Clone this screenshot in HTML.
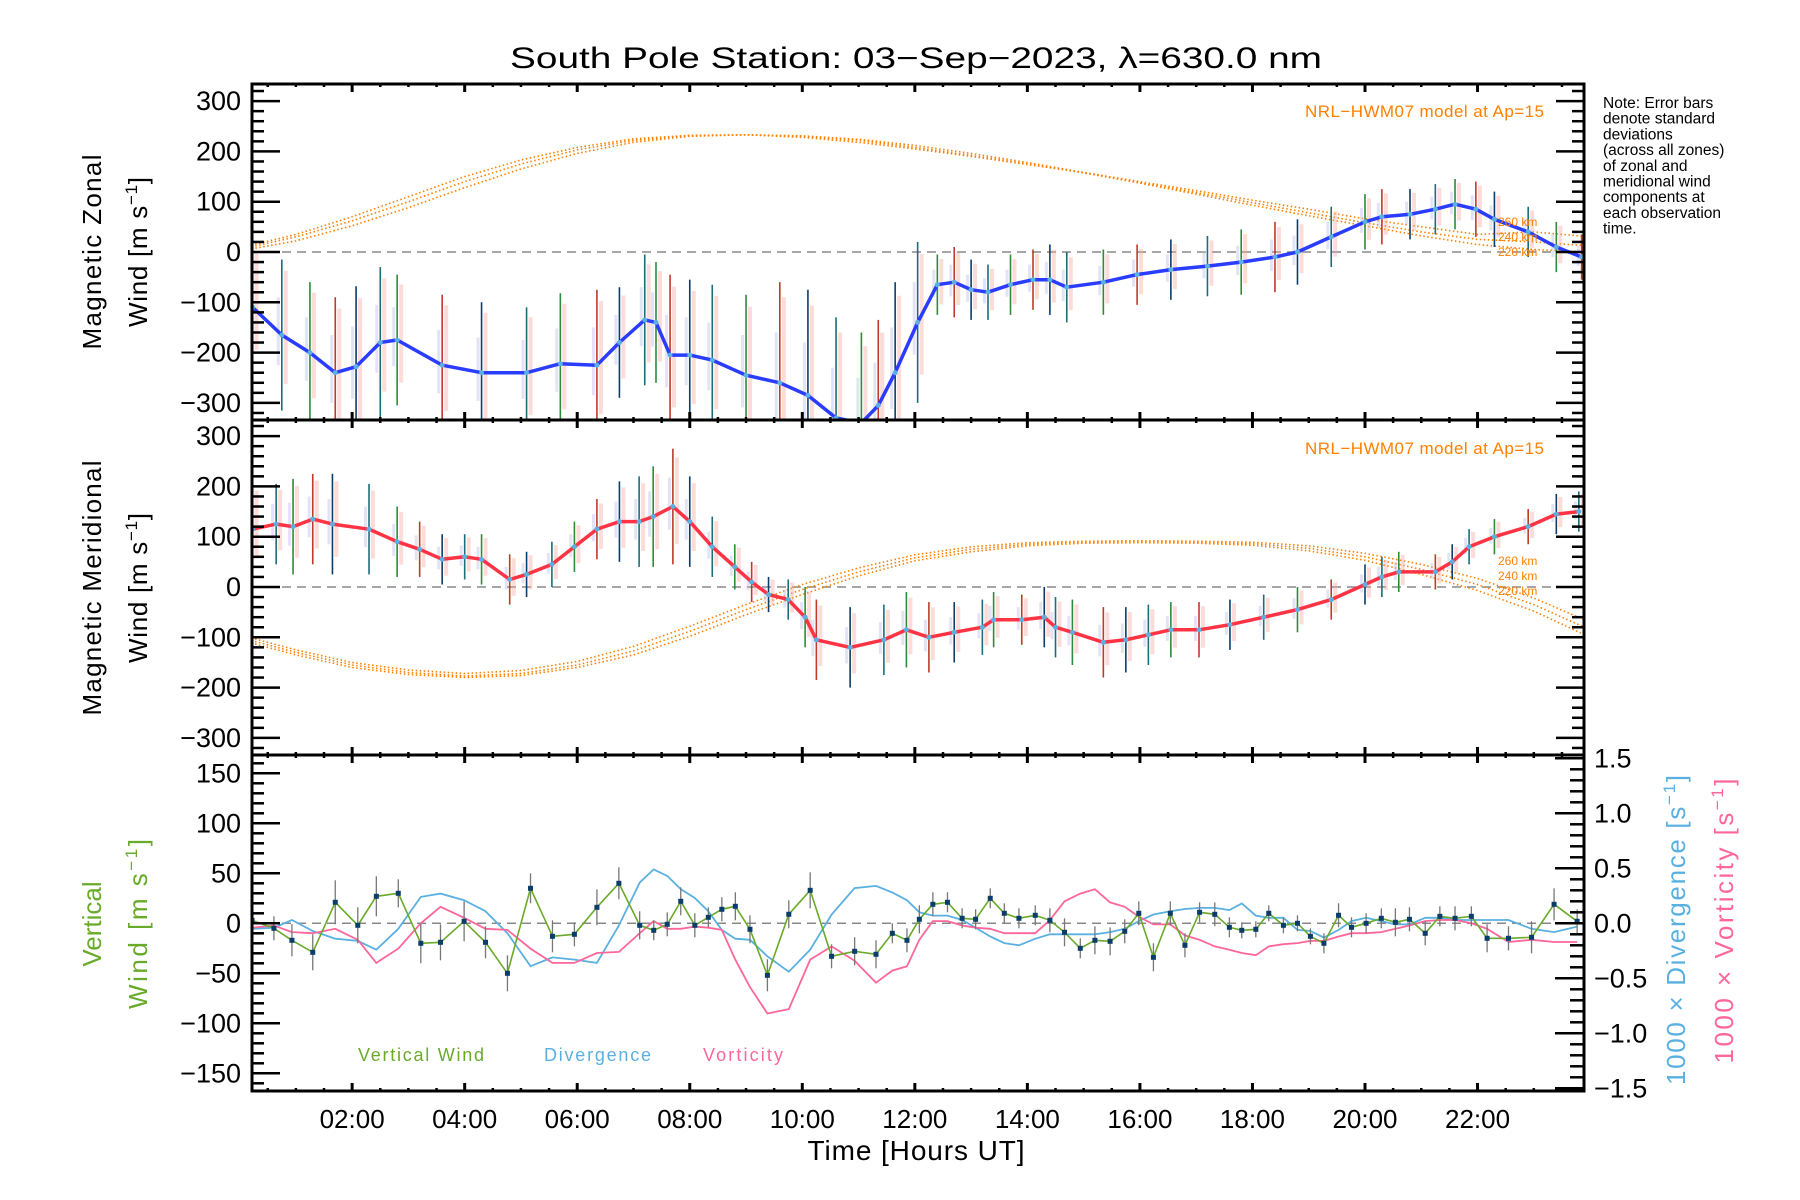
<!DOCTYPE html>
<html><head><meta charset="utf-8"><style>
html,body{margin:0;padding:0;background:#fff;}
svg{display:block;font-family:"Liberation Sans",sans-serif;}
</style></head><body>
<svg id="chart" width="1800" height="1200" viewBox="0 0 1800 1200" xmlns="http://www.w3.org/2000/svg">
<rect width="1800" height="1200" fill="#fff"/>
<text x="916" y="68" font-size="30" text-anchor="middle" textLength="812" lengthAdjust="spacingAndGlyphs">South Pole Station: 03−Sep−2023, λ=630.0 nm</text>
<g font-size="15.5">
<text x="1603" y="108">Note: Error bars</text><text x="1603" y="123.7">denote standard</text><text x="1603" y="139.4">deviations</text><text x="1603" y="155.1">(across all zones)</text><text x="1603" y="170.8">of zonal and</text><text x="1603" y="186.5">meridional wind</text><text x="1603" y="202.2">components at</text><text x="1603" y="217.9">each observation</text><text x="1603" y="233.6">time.</text>
</g>
<g id="layer"></g>
<g font-size="26" text-anchor="middle">
<text transform="translate(101,252) rotate(-90)" textLength="195">Magnetic Zonal</text>
<text transform="translate(147,252) rotate(-90)" textLength="150">Wind [m s<tspan font-size="17" dy="-10">−1</tspan><tspan dy="10">]</tspan></text>
</g>
<g font-size="26" text-anchor="middle">
<text transform="translate(101,588) rotate(-90)" textLength="255">Magnetic Meridional</text>
<text transform="translate(147,588) rotate(-90)" textLength="150">Wind [m s<tspan font-size="17" dy="-10">−1</tspan><tspan dy="10">]</tspan></text>
</g>
<g font-size="26" text-anchor="middle" fill="#6aaa2a">
<text transform="translate(101,924) rotate(-90)">Vertical</text>
<text transform="translate(147,924) rotate(-90)" textLength="170">Wind [m s<tspan font-size="17" dy="-10">−1</tspan><tspan dy="10">]</tspan></text>
</g>
<text transform="translate(1685,930) rotate(-90)" font-size="26" text-anchor="middle" fill="#5ab0e0" textLength="310">1000 × Divergence [s<tspan font-size="17" dy="-10">−1</tspan><tspan dy="10">]</tspan></text>
<text transform="translate(1733,921) rotate(-90)" font-size="26" text-anchor="middle" fill="#ff6699" textLength="285">1000 × Vorticity [s<tspan font-size="17" dy="-10">−1</tspan><tspan dy="10">]</tspan></text>
<text x="916" y="1160" font-size="28" text-anchor="middle" textLength="217">Time [Hours UT]</text>
<text x="358" y="1061" font-size="18" fill="#6aaa2a" textLength="126">Vertical Wind</text>
<text x="544" y="1061" font-size="18" fill="#5ab0e0" textLength="107">Divergence</text>
<text x="703" y="1061" font-size="18" fill="#ff6699" textLength="80">Vorticity</text>
<text x="1305" y="117" font-size="17" fill="#ff8000" textLength="239">NRL−HWM07 model at Ap=15</text>
<text x="1305" y="454" font-size="17" fill="#ff8000" textLength="239">NRL−HWM07 model at Ap=15</text>
<g font-size="12" fill="#ff8000">
<text x="1498" y="226">260 km</text>
<text x="1498" y="241">240 km</text>
<text x="1498" y="256">220 km</text>
<text x="1498" y="565">260 km</text>
<text x="1498" y="580">240 km</text>
<text x="1498" y="595">220 km</text>
</g>
</svg>
<script>
// ---- data ----
const modelHours = [0,1,2,3,4,5,6,7,8,9,10,11,12,13,14,15,16,17,18,19,20,21,22,23,24];
const zonalModel260 = [8,35,70,110,150,183,208,225,232,233,228,218,205,190,174,158,140,122,103,85,66,50,35,40,30];
const zonalModel240 = [5,30,62,100,140,175,203,222,231,233,230,222,208,192,175,157,138,118,98,78,58,40,25,20,12];
const zonalModel220 = [2,22,52,88,128,165,196,218,230,233,231,224,212,196,178,158,137,115,93,72,52,32,15,5,0];
const meridModel260 = [-95,-125,-150,-165,-172,-166,-148,-118,-78,-35,5,38,64,80,88,91,92,91,89,82,67,45,17,-22,-70];
const meridModel240 = [-100,-130,-155,-170,-177,-172,-155,-127,-88,-45,-5,30,58,75,85,89,90,89,86,77,60,35,5,-35,-85];
const meridModel220 = [-105,-135,-160,-174,-180,-176,-160,-135,-98,-55,-15,22,52,70,82,87,88,87,83,72,53,25,-7,-48,-100];

const zonalHours = [0.23,0.75,1.25,1.7,2.07,2.5,2.8,3.6,4.3,5.1,5.7,6.35,6.75,7.2,7.4,7.65,8.0,8.4,9.0,9.6,10.1,10.6,11.05,11.35,11.65,12.05,12.4,12.7,13.0,13.3,13.7,14.1,14.4,14.7,15.35,15.95,16.55,17.2,17.8,18.4,18.8,19.4,20.0,20.3,20.8,21.25,21.6,21.97,22.3,22.9,23.4,23.85];
const zonalWind = [-110,-165,-200,-240,-228,-180,-175,-225,-240,-240,-222,-225,-180,-135,-140,-205,-205,-215,-245,-260,-285,-330,-340,-305,-240,-140,-65,-60,-75,-80,-65,-55,-55,-70,-60,-45,-35,-28,-20,-10,0,30,60,70,75,85,95,85,65,40,10,-10];
const zonalErr = [130,150,140,150,160,150,130,140,140,130,140,150,110,130,120,160,150,150,160,200,210,200,180,170,180,160,60,70,60,55,60,60,70,70,65,60,60,60,65,70,65,60,55,55,50,50,50,55,55,50,50,45];

const meridHours = [0.23,0.65,0.95,1.3,1.65,2.3,2.8,3.2,3.6,4.0,4.3,4.8,5.1,5.55,5.95,6.35,6.75,7.1,7.35,7.7,8.0,8.4,8.8,9.1,9.4,9.75,10.05,10.25,10.85,11.45,11.85,12.25,12.7,13.2,13.4,13.9,14.3,14.5,14.8,15.35,15.75,16.15,16.55,17.05,17.6,18.2,18.8,19.4,20.0,20.3,20.6,21.25,21.55,21.85,22.3,22.9,23.4,23.8];
const meridWind = [115,125,120,135,125,115,90,75,55,60,55,15,25,45,80,115,130,130,140,160,130,80,40,10,-15,-25,-60,-105,-120,-105,-85,-100,-90,-80,-65,-65,-60,-80,-90,-110,-105,-95,-85,-85,-75,-60,-45,-25,5,20,30,30,50,80,100,120,145,150];
const meridErr = [90,80,95,90,100,90,70,55,50,45,50,50,45,45,50,60,80,90,100,115,90,60,45,40,35,40,60,80,80,70,75,70,60,55,55,50,60,60,65,70,65,60,55,55,50,45,45,40,40,40,40,35,35,35,35,35,40,40];

const vertHours = [0.22,0.61,0.93,1.30,1.70,2.10,2.43,2.82,3.22,3.57,3.99,4.37,4.76,5.17,5.56,5.95,6.35,6.74,7.11,7.36,7.60,7.84,8.09,8.33,8.57,8.81,9.07,9.38,9.76,10.14,10.52,10.93,11.31,11.60,11.86,12.08,12.32,12.58,12.84,13.08,13.34,13.59,13.85,14.14,14.40,14.66,14.94,15.20,15.47,15.73,15.98,16.24,16.54,16.80,17.06,17.33,17.59,17.81,18.06,18.29,18.55,18.80,19.03,19.27,19.53,19.76,20.02,20.29,20.54,20.79,21.07,21.33,21.60,21.89,22.17,22.55,22.96,23.36,23.77];
const vertWind = [3,-5,-17,-29,21,-2,27,30,-20,-19,2,-19,-50,35,-13,-11,16,40,-2,-7,-1,22,-2,6,14,17,-6,-52,9,33,-33,-28,-31,-10,-17,4,19,21,5,4,25,10,5,8,3,-9,-25,-17,-18,-8,10,-34,10,-22,11,9,-4,-7,-6,10,-2,0,-13,-20,8,-4,0,5,1,4,-10,7,5,7,-15,-15,-14,19,2];
const vertErr = [15,12,16,18,22,18,20,14,20,18,20,16,18,15,16,12,18,16,14,10,12,14,12,10,12,14,14,16,14,18,12,14,14,10,12,14,12,10,10,10,10,10,10,10,12,14,10,14,14,12,12,14,12,12,10,12,10,8,8,8,8,8,8,10,12,10,10,10,14,12,12,10,12,10,14,12,16,16,12];
const divergence = [-0.05,-0.04,0.03,-0.07,-0.14,-0.16,-0.24,-0.05,0.24,0.27,0.21,0.11,-0.09,-0.39,-0.31,-0.33,-0.36,-0.02,0.37,0.49,0.43,0.31,0.23,0.11,-0.06,-0.14,-0.15,-0.30,-0.44,-0.24,0.08,0.32,0.34,0.28,0.21,0.10,0.07,0.07,0.03,-0.04,-0.12,-0.18,-0.20,-0.14,-0.10,-0.10,-0.10,-0.10,-0.08,-0.05,0.02,0.08,0.11,0.13,0.14,0.14,0.12,0.18,0.07,0.05,0.05,-0.06,-0.07,-0.13,-0.06,0.02,0.05,0.02,-0.01,-0.01,0.05,0.05,0.03,0.03,0.03,0.03,-0.05,-0.08,-0.03];
const vorticity = [-0.04,-0.02,-0.08,-0.09,-0.05,-0.15,-0.36,-0.23,0.00,0.15,0.05,-0.05,-0.06,-0.23,-0.36,-0.36,-0.27,-0.26,-0.09,0.02,-0.05,-0.05,-0.03,-0.04,-0.06,-0.33,-0.58,-0.82,-0.78,-0.33,-0.21,-0.34,-0.54,-0.43,-0.39,-0.15,0.02,0.02,-0.02,-0.04,-0.05,-0.09,-0.09,-0.09,0.03,0.20,0.27,0.31,0.19,0.15,0.06,-0.01,-0.01,-0.11,-0.15,-0.21,-0.24,-0.27,-0.29,-0.21,-0.19,-0.18,-0.16,-0.16,-0.12,-0.09,-0.09,-0.08,-0.05,-0.02,0.02,0.03,0.03,0.00,-0.05,-0.17,-0.15,-0.17,-0.17];

const xTickLabels = ['02:00','04:00','06:00','08:00','10:00','12:00','14:00','16:00','18:00','20:00','22:00'];
const xTickHours = [2,4,6,8,10,12,14,16,18,20,22];
const windTicks = [300,200,100,0,-100,-200,-300];
const vertTicks = [150,100,50,0,-50,-100,-150];
const rightTicks = [1.5,1.0,0.5,0.0,-0.5,-1.0,-1.5];

// ---- axes ----
const L=252,R=1584;
const P1={top:84,bot:420,zero:252,k:0.503};
const P2={top:420,bot:755,zero:587,k:0.503};
const P3={top:755,bot:1091,zero:923.3,k:1};
const kR=110;
function xS(h){return 239.6+56.27*h;}
function yP(p,v){return p.zero-v*p.k;}
function yR(u){return P3.zero-u*kR;}

const NS='http://www.w3.org/2000/svg';
const layer=document.getElementById('layer');
function mk(tag,attrs,parent){const e=document.createElementNS(NS,tag);for(const k in attrs)e.setAttribute(k,attrs[k]);(parent||layer).appendChild(e);return e;}

const defs=mk('defs',{});
[P1,P2,P3].forEach((p,i)=>{const c=mk('clipPath',{id:'clip'+i},defs);mk('rect',{x:L,y:p.top,width:R-L,height:p.bot-p.top},c);});

function pathD(xs,ys){return xs.map((x,i)=>(i?'L':'M')+x.toFixed(1)+','+ys[i].toFixed(1)).join(' ');}

function drawModel(p,ci,arrs,names){
  const g=mk('g',{'clip-path':'url(#clip'+ci+')'});
  arrs.forEach((a,j)=>{
    const e=mk('path',{d:pathD(modelHours.map(xS),a.map(v=>yP(p,v))),fill:'none',stroke:'#ff8000','stroke-width':1.6,'stroke-dasharray':'1.5 2.5'},g);
    
    
  });
}
function zeroLine(p,name){
  const e=mk('line',{x1:L,x2:R,y1:p.zero,y2:p.zero,stroke:'#888','stroke-width':1.5,'stroke-dasharray':'9 6'});
  
  
}
const barCols=['#0b3d6b','#1a6e7a','#2e8b3a','#c0392b'];
function drawWind(p,ci,hrs,vals,errs,col,prefix){
  const g=mk('g',{'clip-path':'url(#clip'+ci+')'});
  hrs.forEach((h,i)=>{
    const x=xS(h),v=vals[i],e=errs[i];
    const f=mk('rect',{x:x+2,y:yP(p,v+e*0.85),width:4,height:(e*1.5)*p.k,fill:'#f4a8a0',opacity:0.4},g);
    
    
    const f2=mk('rect',{x:x-5,y:yP(p,v+e*0.5),width:3,height:(e*0.9)*p.k,fill:'#b8b8e8',opacity:0.4},g);
    
    
    const b=mk('line',{x1:x,x2:x,y1:yP(p,v+e),y2:yP(p,v-e),stroke:barCols[i%4],'stroke-width':1.6},g);
    
    
  });
  const ln=mk('path',{d:pathD(hrs.map(xS),vals.map(v=>yP(p,v))),fill:'none',stroke:col,'stroke-width':3.5,'stroke-linejoin':'round'},g);
  
  
  hrs.forEach((h,i)=>{
    const c=mk('circle',{cx:xS(h),cy:yP(p,vals[i]),r:2.5,fill:'#5ab0e0'},g);
    
    
  });
}

zeroLine(P1,'zero-line-zonal');
zeroLine(P2,'zero-line-meridional');
zeroLine(P3,'zero-line-vertical');
drawModel(P1,0,[zonalModel260,zonalModel240,zonalModel220],['model-zonal-260km','model-zonal-240km','model-zonal-220km']);
drawModel(P2,1,[meridModel260,meridModel240,meridModel220],['model-meridional-260km','model-meridional-240km','model-meridional-220km']);
drawWind(P1,0,zonalHours,zonalWind,zonalErr,'#2a3cff','zonal');
drawWind(P2,1,meridHours,meridWind,meridErr,'#ff3344','meridional');

(function(){
  const g=mk('g',{'clip-path':'url(#clip2)'});
  const dv=mk('path',{d:pathD(vertHours.map(xS),divergence.map(yR)),fill:'none',stroke:'#5ab0e0','stroke-width':1.8},g);
  
  
  const vo=mk('path',{d:pathD(vertHours.map(xS),vorticity.map(yR)),fill:'none',stroke:'#ff6699','stroke-width':1.8},g);
  
  
  vertHours.forEach((h,i)=>{
    const b=mk('line',{x1:xS(h),x2:xS(h),y1:yP(P3,vertWind[i]+vertErr[i]),y2:yP(P3,vertWind[i]-vertErr[i]),stroke:'#777','stroke-width':1.3},g);
    
    
  });
  const vw=mk('path',{d:pathD(vertHours.map(xS),vertWind.map(v=>yP(P3,v))),fill:'none',stroke:'#6aaa2a','stroke-width':1.6},g);
  
  
  vertHours.forEach((h,i)=>{
    const m=mk('rect',{x:xS(h)-2.5,y:yP(P3,vertWind[i])-2.5,width:5,height:5,fill:'#0b3d6b'},g);
    
    
  });
})();

function frame(p,name){
  const r=mk('rect',{x:L,y:p.top,width:R-L,height:p.bot-p.top,fill:'none',stroke:'#000','stroke-width':3});
  
  
  const g=mk('g',{stroke:'#000'});
  for(let h=0.5;h<24;h+=0.5){
    const x=xS(h); if(x<=L||x>=R) continue;
    const major=(h%2===0);
    const len=major?8:3;
    mk('line',{x1:x,x2:x,y1:p.bot,y2:p.bot-len,'stroke-width':major?3:2.5},g);
    mk('line',{x1:x,x2:x,y1:p.top,y2:p.top+len,'stroke-width':major?3:2.5},g);
  }
}
function yTicks(p,ticks,minorStep,majorStep,range,rightMajor,name){
  const g=mk('g',{stroke:'#000','stroke-width':2.5});
  
  
  for(let v=-range;v<=range+1e-6;v+=minorStep){
    const y=yP(p,v); if(y<p.top+1||y>p.bot-1) continue;
    const major=Math.abs(v/majorStep-Math.round(v/majorStep))<1e-6;
    const len=major?28:12;
    mk('line',{x1:L,x2:L+len,y1:y,y2:y},g);
    if(rightMajor) mk('line',{x1:R,x2:R-len,y1:y,y2:y},g);
  }
  ticks.forEach(v=>{
    const t=mk('text',{x:241,y:yP(p,v)+9,'font-size':27,'text-anchor':'end',fill:'#000'});
    t.textContent=(v<0?'−':'')+Math.abs(v);
    
    
  });
}
yTicks(P1,windTicks,20,100,340,true,'y-ticks-zonal');
yTicks(P2,windTicks,20,100,340,true,'y-ticks-meridional');
yTicks(P3,vertTicks,10,50,170,false,'y-ticks-vertical');
(function(){
  const g=mk('g',{stroke:'#000','stroke-width':2.5});
  
  
  for(let u=-1.5;u<=1.5+1e-6;u+=0.1){
    const y=yR(u); if(y<P3.top+1||y>P3.bot-1) continue;
    const major=Math.abs(u*2-Math.round(u*2))<1e-6;
    mk('line',{x1:R,x2:R-(major?29:14),y1:y,y2:y},g);
  }
  rightTicks.forEach(u=>{
    const t=mk('text',{x:1594,y:yR(u)+9,'font-size':27,fill:'#000'});
    t.textContent=(u<0?'−':'')+Math.abs(u).toFixed(1);
    
    
  });
})();
frame(P1,'panel-zonal-frame');
frame(P2,'panel-meridional-frame');
frame(P3,'panel-vertical-frame');
xTickHours.forEach((h,i)=>{
  const t=mk('text',{x:xS(h),y:1128,'font-size':26,'text-anchor':'middle',fill:'#000'});
  t.textContent=xTickLabels[i];
  
  
});
</script>
</body></html>
